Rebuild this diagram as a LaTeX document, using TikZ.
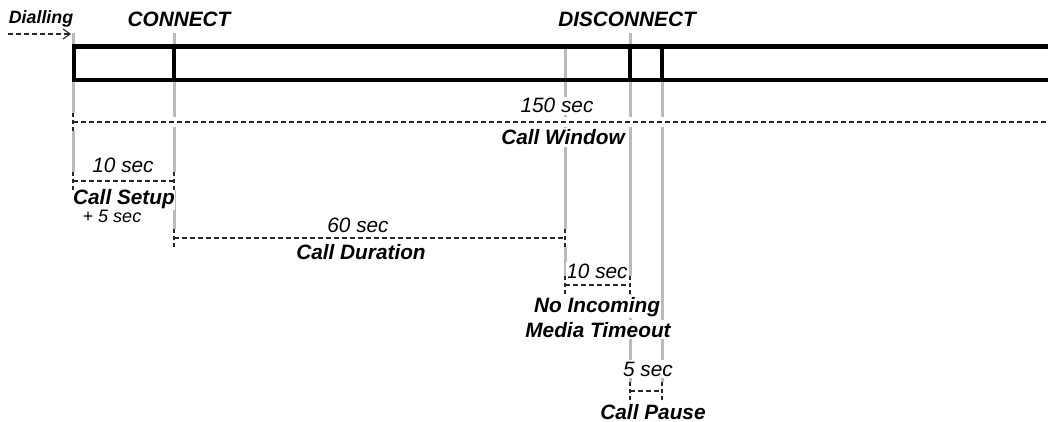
\documentclass[tikz,border=0pt]{standalone}
\usepackage{fontspec}
\setmainfont{Liberation Sans}
\usetikzlibrary{arrows.meta}
\tikzset{
  gridline/.style={draw=black!27, line width=3pt},
  bar/.style={draw=black, line width=4.5pt, line join=miter},
  meas/.style={draw=black!85, line width=1.1pt, dash pattern=on 5pt off 3pt},
  tick/.style={draw=black!85, line width=1.1pt, dash pattern=on 4pt off 3pt},
  band/.style={fill=white, draw=none},
  lab/.style={font=\fontsize{20.8}{24}\selectfont\itshape, fill=white, inner xsep=0.5pt, inner ysep=1.5pt, anchor=base},
  blab/.style={lab, font=\fontsize{20.8}{24}\selectfont\bfseries\itshape},
  slab/.style={lab, font=\fontsize{18}{21}\selectfont\itshape},
}
\begin{document}
\begin{tikzpicture}[x=1pt,y=-1pt]
\clip (0,0) rectangle (1048,422);
\fill[white] (0,0) rectangle (1048,422);
% grey guide lines
\coordinate (g1t) at (73,33);  \coordinate (g1b) at (73,176);
\coordinate (g2t) at (174,33); \coordinate (g2b) at (174,238);
\coordinate (g3t) at (565,47); \coordinate (g3b) at (565,285);
\coordinate (g4t) at (630,33); \coordinate (g4b) at (630,391);
\coordinate (g5t) at (662,47); \coordinate (g5b) at (662,391);
\draw[gridline] (g1t) -- (g1b);
\draw[gridline] (g2t) -- (g2b);
\draw[gridline] (g3t) -- (g3b);
\draw[gridline] (g4t) -- (g4b);
\draw[gridline] (g5t) -- (g5b);
% labels
\node[blab, font=\fontsize{17.8}{20}\selectfont\bfseries\itshape, fill=none] (dial) at (41,24) {Dialling};
\node[blab, fill=none] (conn) at (179,27) {CONNECT};
\node[blab, fill=none] (disc) at (627,27) {DISCONNECT};
\node[lab] (t150) at (557,113) {150 sec};
\node[blab] (win) at (563,145) {Call Window};
\node[lab] (t10a) at (123,172) {10 sec};
\node[blab] (setup) at (124,204) {Call Setup};
\node[slab] (plus) at (112,222) {+ 5 sec};
\node[lab] (t60) at (358,232) {60 sec};
\node[blab] (dur) at (361,259) {Call Duration};
\node[lab] (t10b) at (597,278) {10 sec};
\node[blab] (noinc) at (597,312) {No Incoming};
\node[blab] (media) at (598,337) {Media Timeout};
\node[lab] (t5) at (648,376) {5 sec};
\node[blab] (pause) at (653,419) {Call Pause};
% measurement end points
\coordinate (a1) at (73,122);  \coordinate (a2) at (1050,122);
\coordinate (b1) at (73,181);  \coordinate (b2) at (174,181);
\coordinate (c1) at (174,238); \coordinate (c2) at (565,238);
\coordinate (d1) at (565,285); \coordinate (d2) at (630,285);
\coordinate (e1) at (630,391); \coordinate (e2) at (662,391);
% white bands
\foreach \p/\q in {a1/a2,b1/b2,c1/c2,d1/d2,e1/e2}{
  \fill[band] ([yshift=-5pt]\p) rectangle ([yshift=5pt]\q);
}
\foreach \p in {a1,b1,b2,c1,c2,d1,d2,e1,e2}{
  \fill[band] ([xshift=-3pt,yshift=-9pt]\p) rectangle ([xshift=3pt,yshift=9pt]\p);
  \draw[tick] ([yshift=-9pt]\p) -- ([yshift=9pt]\p);
}
\foreach \p/\q in {a1/a2,b1/b2,c1/c2,d1/d2,e1/e2}{
  \draw[meas] (\p) -- (\q);
}
% dialling arrow
\coordinate (ds) at (8,34); \coordinate (de) at (71,34);
\draw[meas, -{Straight Barb[length=7pt,width=10pt,line width=1.1pt]}] (ds) -- (de);
% timeline bar
\coordinate (bx1) at (74,46.5); \coordinate (bx2) at (1060,80);
\draw[bar] (bx1) rectangle (bx2);
\draw[bar] (174,46.5) -- (174,80);
\draw[bar] (630,46.5) -- (630,80);
\draw[bar] (662,46.5) -- (662,80);
\end{tikzpicture}
\end{document}
